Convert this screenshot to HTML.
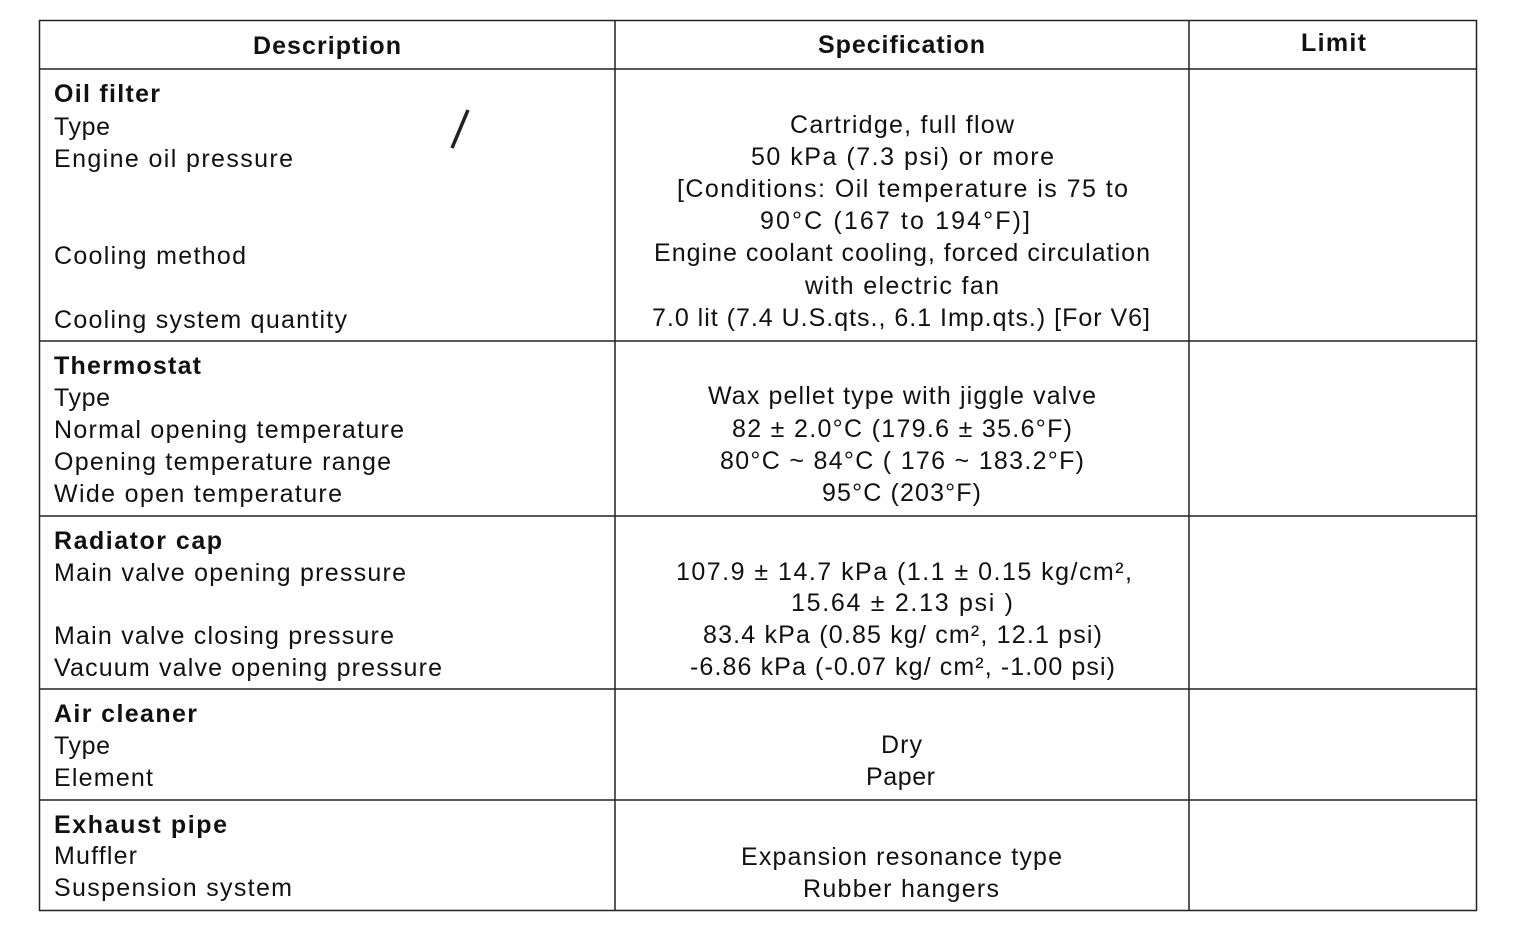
<!DOCTYPE html>
<html><head><style>html,body{margin:0;padding:0;background:#fff}svg{display:block}</style></head>
<body>
<svg width="1520" height="934" xmlns="http://www.w3.org/2000/svg" font-family="Liberation Sans, Arial, sans-serif" font-size="25" fill="#111">
<g stroke="#222" stroke-width="1.5" fill="none">
<rect x="39.5" y="20.5" width="1437" height="890"/>
<line x1="615" y1="20" x2="615" y2="911"/>
<line x1="1189" y1="20" x2="1189" y2="911"/>
<line x1="39" y1="69" x2="1477" y2="69"/>
<line x1="39" y1="341" x2="1477" y2="341"/>
<line x1="39" y1="516" x2="1477" y2="516"/>
<line x1="39" y1="689" x2="1477" y2="689"/>
<line x1="39" y1="800" x2="1477" y2="800"/>
<line x1="468" y1="110" x2="452" y2="148" stroke-width="3.5"/>
</g>
<g font-weight="bold" font-size="25">
<text x="253" y="54" textLength="148">Description</text>
<text x="818" y="53" textLength="167">Specification</text>
<text x="1301" y="51" textLength="65">Limit</text>
<text x="54" y="102" textLength="106">Oil filter</text>
<text x="54" y="374" textLength="147">Thermostat</text>
<text x="54" y="549" textLength="168">Radiator cap</text>
<text x="54" y="722" textLength="143">Air cleaner</text>
<text x="54" y="833" textLength="173">Exhaust pipe</text>
</g>
<g>
<text x="54" y="135" textLength="56">Type</text>
<text x="54" y="167" textLength="239">Engine oil pressure</text>
<text x="54" y="264" textLength="192">Cooling method</text>
<text x="54" y="328" textLength="293">Cooling system quantity</text>
<text x="54" y="406" textLength="56">Type</text>
<text x="54" y="438" textLength="350">Normal opening temperature</text>
<text x="54" y="470" textLength="337">Opening temperature range</text>
<text x="54" y="502" textLength="288">Wide open temperature</text>
<text x="54" y="581" textLength="352">Main valve opening pressure</text>
<text x="54" y="644" textLength="340">Main valve closing pressure</text>
<text x="54" y="676" textLength="388">Vacuum valve opening pressure</text>
<text x="54" y="754" textLength="56">Type</text>
<text x="54" y="786" textLength="99">Element</text>
<text x="54" y="864" textLength="83">Muffler</text>
<text x="54" y="896" textLength="238">Suspension system</text>

<text x="790" y="133" textLength="224">Cartridge, full flow</text>
<text x="751" y="165" textLength="303">50 kPa (7.3 psi) or more</text>
<text x="677" y="197" textLength="451">[Conditions: Oil temperature is 75 to</text>
<text x="760" y="229" textLength="270">90°C (167 to 194°F)]</text>
<text x="654" y="261" textLength="496">Engine coolant cooling, forced circulation</text>
<text x="805" y="294" textLength="194">with electric fan</text>
<text x="652" y="326" textLength="498">7.0 lit (7.4 U.S.qts., 6.1 Imp.qts.) [For V6]</text>
<text x="708" y="404" textLength="388">Wax pellet type with jiggle valve</text>
<text x="732" y="437" textLength="340">82 ± 2.0°C (179.6 ± 35.6°F)</text>
<text x="720" y="469" textLength="364">80°C ~ 84°C ( 176 ~ 183.2°F)</text>
<text x="822" y="501" textLength="159">95°C (203°F)</text>
<text x="676" y="580" textLength="456">107.9 ± 14.7 kPa (1.1 ± 0.15 kg/cm²,</text>
<text x="791" y="611" textLength="222">15.64 ± 2.13 psi )</text>
<text x="703" y="643" textLength="399">83.4 kPa (0.85 kg/ cm², 12.1 psi)</text>
<text x="690" y="675" textLength="425">-6.86 kPa (-0.07 kg/ cm², -1.00 psi)</text>
<text x="881" y="753" textLength="41">Dry</text>
<text x="866" y="785" textLength="69">Paper</text>
<text x="741" y="865" textLength="321">Expansion resonance type</text>
<text x="803" y="897" textLength="196">Rubber hangers</text>
</g>
</svg>
</body></html>
